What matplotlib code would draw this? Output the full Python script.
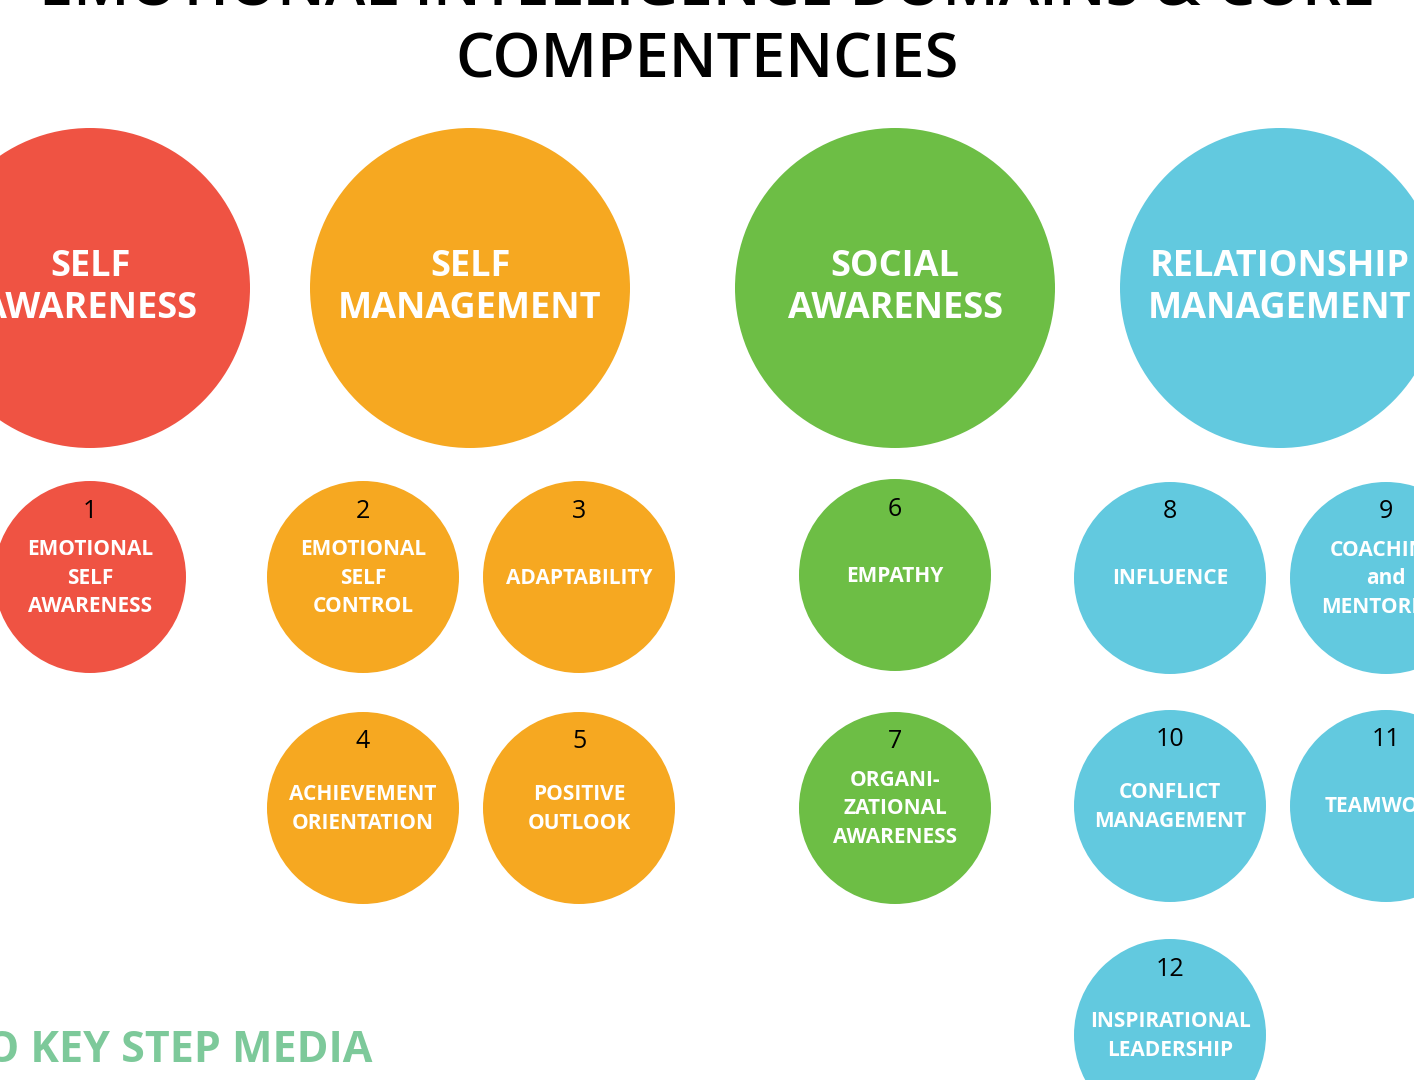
import matplotlib
matplotlib.use("Agg")
import matplotlib.pyplot as plt
from matplotlib.patches import Circle

domains = ["SELF\nAWARENESS", "SELF\nMANAGEMENT", "SOCIAL\nAWARENESS", "RELATIONSHIP\nMANAGEMENT"]
domain_colors = ["#ef5343", "#f6a821", "#6dbe45", "#62c9df"]
comp_numbers = ["1", "2", "3", "4", "5", "6", "7", "8", "9", "10", "11", "12"]
comp_labels = ["EMOTIONAL\nSELF\nAWARENESS", "EMOTIONAL\nSELF\nCONTROL", "ADAPTABILITY",
               "ACHIEVEMENT\nORIENTATION", "POSITIVE\nOUTLOOK", "EMPATHY",
               "ORGANI-\nZATIONAL\nAWARENESS", "INFLUENCE", "COACHING\nand\nMENTORING",
               "CONFLICT\nMANAGEMENT", "TEAMWORK", "INSPIRATIONAL\nLEADERSHIP"]
comp_domain = [0, 1, 1, 1, 1, 2, 2, 3, 3, 3, 3, 3]

big_pos = [(90, 288), (470, 288), (895, 288), (1280, 288)]
small_pos = [(90, 577), (363, 577), (579, 577), (363, 808), (579, 808), (895, 575),
             (895, 808), (1170, 578), (1386, 578), (1170, 806), (1386, 806), (1170, 1035)]

fig = plt.figure(figsize=(14.14, 10.8), dpi=100)
ax = fig.add_axes([0, 0, 1, 1])
ax.set_xlim(0, 1414); ax.set_ylim(1080, 0); ax.set_aspect("equal"); ax.axis("off")
FONT = ["Open Sans", "DejaVu Sans"]

for (x, y), name, c in zip(big_pos, domains, domain_colors):
    ax.add_patch(Circle((x, y), 160, color=c, lw=0))
    ax.text(x, y, name, color="white", ha="center", va="center", fontsize=26,
            fontweight="bold", family=FONT, linespacing=1.25)

for (x, y), num, lab, d in zip(small_pos, comp_numbers, comp_labels, comp_domain):
    ax.add_patch(Circle((x, y), 96, color=domain_colors[d], lw=0))
    ax.text(x, y - 66, num, color="black", ha="center", va="center", fontsize=18, family=FONT)
    ax.text(x, y + 1, lab, color="white", ha="center", va="center", fontsize=15,
            fontweight="bold", family=FONT, linespacing=1.45)

ax.text(707, -10, "EMOTIONAL INTELLIGENCE DOMAINS & CORE", ha="center", va="center",
        fontsize=44, family=FONT, fontweight="semibold")
ax.text(707, 62, "COMPENTENCIES", ha="center", va="center", fontsize=44, family=FONT,
        fontweight="semibold")
ax.text(-15, 1050, "O KEY STEP MEDIA", ha="left", va="center", fontsize=31, family=FONT,
        fontweight="bold", color="#7dc99a")

fig.savefig("out.png", dpi=100)
